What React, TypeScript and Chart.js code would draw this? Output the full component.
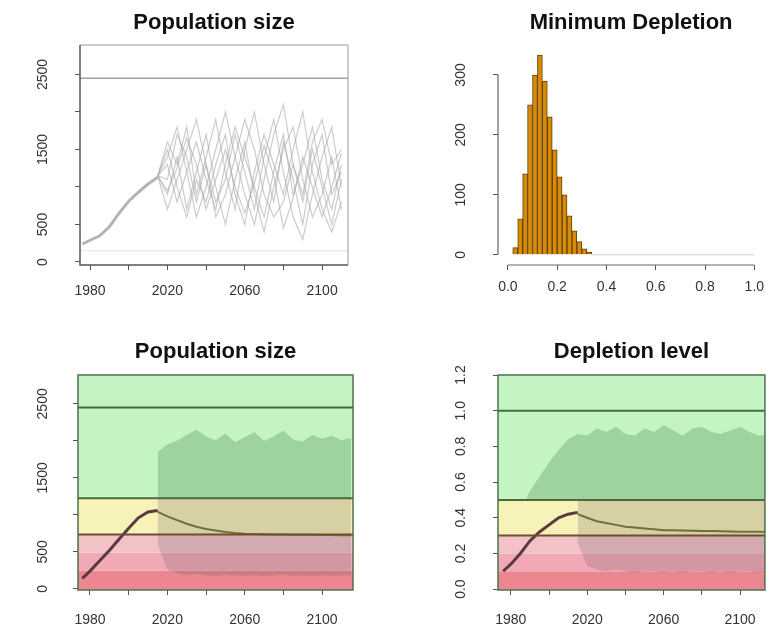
import React, { useEffect, useRef } from 'react';
import { Chart, registerables } from 'chart.js';
Chart.register(...registerables);

const FONT = '"Liberation Sans", Arial, Helvetica, sans-serif';

// ---------- shared axes ----------
const yearTicks = [1980, 2000, 2020, 2040, 2060, 2080, 2100];
const yearLabels = [1980, 2020, 2060, 2100];
const popTicks = [0, 500, 1000, 1500, 2000, 2500];
const popLabels = [0, 500, 1500, 2500];

// ---------- panel 1: Population size (trajectories) ----------
const histYears = [1976, 1980, 1985, 1990, 1995, 2000, 2005, 2010, 2015];
const p1Hist = [240, 290, 350, 470, 650, 810, 930, 1040, 1130];
const projYears = [2015, 2020, 2025, 2030, 2035, 2040, 2045, 2050, 2055, 2060, 2065, 2070, 2075, 2080, 2085, 2090, 2095, 2100, 2105, 2110];
const traj1 = [1150, 1600, 1300, 1800, 900, 1400, 1900, 1200, 700, 1500, 2000, 1300, 800, 1600, 1100, 500, 1300, 1700, 900, 1200];
const traj2 = [1150, 900, 1400, 700, 1200, 1700, 1000, 500, 1100, 1600, 900, 400, 1000, 1500, 1800, 1100, 600, 900, 1400, 700];
const traj3 = [1150, 1400, 1800, 1200, 600, 1000, 1500, 2000, 1400, 900, 500, 1100, 1700, 2100, 1300, 800, 1500, 1000, 500, 1100];
const traj4 = [1150, 700, 1100, 1500, 1900, 1300, 800, 1100, 1700, 1200, 700, 1400, 1900, 1200, 600, 300, 900, 1400, 1800, 1000];
const traj5 = [1150, 1500, 1000, 600, 1100, 800, 1300, 1700, 900, 500, 1200, 1700, 1300, 900, 1500, 2000, 1200, 700, 400, 800];
const traj6 = [1150, 1100, 1700, 1400, 800, 1300, 600, 900, 1400, 1900, 1500, 900, 600, 800, 1300, 900, 1600, 1900, 1300, 1500];
const traj7 = [1150, 1300, 800, 1200, 1600, 1100, 700, 1300, 1800, 1400, 1000, 600, 1200, 1700, 900, 1300, 1800, 1100, 700, 1300];
const traj8 = [1150, 950, 1250, 1650, 1300, 700, 1100, 1500, 1000, 650, 1050, 1550, 1150, 450, 850, 1400, 1000, 600, 1000, 1450];
const p1RefLines = [2450, 150];

// ---------- panel 2: Minimum Depletion histogram ----------
const binCenters = [0.03, 0.05, 0.07, 0.09, 0.11, 0.13, 0.15, 0.17, 0.19, 0.21, 0.23, 0.25, 0.27, 0.29, 0.31, 0.33];
const binCounts = [12, 60, 135, 250, 300, 333, 290, 230, 175, 130, 100, 65, 40, 22, 10, 4];
const emptyBinRange = [0.34, 1.0];
const depTicks = [0, 0.2, 0.4, 0.6, 0.8, 1.0];
const countTicks = [0, 100, 200, 300];

// ---------- panels 3 & 4: status bands ----------
const K = 2450;
const bandEdges = [0, 0.1, 0.2, 0.3, 0.5, 1.3];
const bandColors = ['#ea8790', '#f2a9b6', '#f2c2c6', '#f7f2b8', '#c4f4c4'];
const refLevels = [0.3, 0.5, 1.0];
const refColors = ['#6b5030', '#4b6b3b', '#3f6f3f'];
const envYears = [2015, 2020, 2025, 2030, 2035, 2040, 2045, 2050, 2055, 2060, 2065, 2070, 2075, 2080, 2085, 2090, 2095, 2100, 2105, 2110, 2115];

// panel 3 (numbers)
const p3Hist = [140, 240, 380, 520, 670, 820, 960, 1040, 1060];
const p3Upper = [1850, 1950, 2000, 2080, 2150, 2060, 2010, 2100, 1980, 2050, 2120, 2000, 2060, 2140, 2020, 1990, 2080, 2030, 2070, 2010, 2040];
const p3Lower = [600, 260, 210, 190, 200, 180, 170, 190, 180, 175, 185, 170, 180, 190, 175, 180, 170, 185, 175, 180, 180];
const p3Median = [1040, 980, 930, 880, 840, 810, 790, 770, 755, 745, 740, 738, 735, 735, 732, 730, 730, 728, 728, 726, 725];

// panel 4 (depletion)
const depLevelTicks = [0, 0.2, 0.4, 0.6, 0.8, 1.0, 1.2];
const p4Hist = [0.10, 0.14, 0.20, 0.27, 0.32, 0.36, 0.40, 0.42, 0.43];
const p4UpperYears = [1988, 1990, 1995, 2000, 2005, 2010, 2015, 2020, 2025, 2030, 2035, 2040, 2045, 2050, 2055, 2060, 2065, 2070, 2075, 2080, 2085, 2090, 2095, 2100, 2105, 2110, 2115];
const p4UpperVals = [0.50, 0.55, 0.63, 0.71, 0.78, 0.84, 0.87, 0.86, 0.90, 0.88, 0.91, 0.87, 0.86, 0.90, 0.88, 0.92, 0.89, 0.86, 0.90, 0.91, 0.88, 0.87, 0.89, 0.91, 0.88, 0.86, 0.87];
const p4Lower = [0.26, 0.13, 0.11, 0.10, 0.11, 0.10, 0.09, 0.10, 0.10, 0.09, 0.10, 0.09, 0.10, 0.10, 0.09, 0.10, 0.09, 0.10, 0.10, 0.09, 0.10];
const p4Median = [0.42, 0.40, 0.38, 0.37, 0.36, 0.35, 0.345, 0.34, 0.335, 0.33, 0.33, 0.328, 0.327, 0.326, 0.325, 0.324, 0.323, 0.322, 0.322, 0.321, 0.32];

// ---------- helpers ----------
const xy = (xs: number[], ys: number[]) => xs.map((x, i) => ({ x, y: ys[i] }));
const tickFont = { family: FONT, size: 14 };

function xAxis(min: number, max: number, ticksArr: number[], labelsArr: number[], fmt: (v: number) => string, pad: number) {
  return {
    type: 'linear', min, max, offset: false,
    afterBuildTicks: (s: any) => { s.ticks = ticksArr.map((v) => ({ value: v })); },
    afterFit: (s: any) => { s.height = 40; },
    ticks: { autoSkip: false, minRotation: 0, maxRotation: 0, padding: pad, font: tickFont, color: '#333',
      callback: (v: number) => (labelsArr.includes(v) ? fmt(v) : '') },
    grid: { drawOnChartArea: false, drawTicks: true, tickLength: 5, tickColor: '#555', offset: false },
    border: { display: false },
  };
}

function yAxis(min: number, max: number, ticksArr: number[], labelsArr: number[], fmt: (v: number) => string, width: number, pad: number) {
  return {
    type: 'linear', min, max,
    afterBuildTicks: (s: any) => { s.ticks = ticksArr.map((v) => ({ value: v })); },
    afterFit: (s: any) => { s.width = width; },
    ticks: { autoSkip: false, minRotation: 90, maxRotation: 90, crossAlign: 'center', padding: pad, font: tickFont, color: '#333',
      callback: (v: number) => (labelsArr.includes(v) ? fmt(v) : '') },
    grid: { drawOnChartArea: false, drawTicks: true, tickLength: 5, tickColor: '#555' },
    border: { display: false },
  };
}

function title(text: string, top: number, bottom: number) {
  return { display: true, text, fullSize: false, color: '#111', font: { family: FONT, size: 22, weight: 'bold' }, padding: { top, bottom } };
}

function basePlugins(t: any) {
  return { legend: { display: false }, tooltip: { enabled: false }, title: t };
}

const boxPlugin = (strong: string, light: string) => ({
  id: 'box',
  afterDatasetsDraw(chart: any) {
    const { ctx, chartArea: a } = chart;
    ctx.save();
    ctx.lineWidth = 1;
    ctx.strokeStyle = light;
    ctx.beginPath();
    ctx.moveTo(a.left, a.top); ctx.lineTo(a.right, a.top); ctx.lineTo(a.right, a.bottom);
    ctx.stroke();
    ctx.lineWidth = 1.5;
    ctx.strokeStyle = strong;
    ctx.beginPath();
    ctx.moveTo(a.left, a.top); ctx.lineTo(a.left, a.bottom); ctx.lineTo(a.right, a.bottom);
    ctx.stroke();
    ctx.restore();
  },
});

const bandsPlugin = (factor: number) => ({
  id: 'bands',
  beforeDraw(chart: any) {
    const { ctx, chartArea: a, scales: { y } } = chart;
    ctx.save();
    ctx.beginPath(); ctx.rect(a.left, a.top, a.width, a.height); ctx.clip();
    for (let i = 0; i < bandColors.length; i++) {
      const y0 = i === 0 ? a.bottom : y.getPixelForValue(bandEdges[i] * factor);
      const y1 = i === bandColors.length - 1 ? a.top : y.getPixelForValue(bandEdges[i + 1] * factor);
      ctx.fillStyle = bandColors[i];
      ctx.fillRect(a.left, y1, a.width, y0 - y1);
    }
    ctx.restore();
  },
  afterDatasetsDraw(chart: any) {
    const { ctx, chartArea: a, scales: { y } } = chart;
    ctx.save();
    refLevels.forEach((lv, i) => {
      const py = y.getPixelForValue(lv * factor);
      ctx.strokeStyle = refColors[i];
      ctx.lineWidth = 2;
      ctx.beginPath(); ctx.moveTo(a.left, py); ctx.lineTo(a.right, py); ctx.stroke();
    });
    ctx.strokeStyle = '#4f6f4f';
    ctx.lineWidth = 1.5;
    ctx.strokeRect(a.left, a.top, a.width, a.height);
    ctx.restore();
  },
});

const refLinePlugin = {
  id: 'refLines',
  beforeDatasetsDraw(chart: any) {
    const { ctx, chartArea: a, scales: { y } } = chart;
    ctx.save();
    p1RefLines.forEach((v, i) => {
      const py = y.getPixelForValue(v);
      ctx.strokeStyle = i === 0 ? '#a0a0a0' : '#e2e2e2';
      ctx.lineWidth = i === 0 ? 1.5 : 1;
      ctx.beginPath(); ctx.moveTo(a.left, py); ctx.lineTo(a.right, py); ctx.stroke();
    });
    ctx.restore();
  },
};

const rAxesPlugin = {
  id: 'rAxes',
  afterDatasetsDraw(chart: any) {
    const { ctx, chartArea: a, scales: { x, y } } = chart;
    ctx.save();
    ctx.strokeStyle = '#666';
    ctx.lineWidth = 1.2;
    ctx.beginPath();
    ctx.moveTo(a.left, y.getPixelForValue(countTicks[0]));
    ctx.lineTo(a.left, y.getPixelForValue(countTicks[countTicks.length - 1]));
    ctx.moveTo(x.getPixelForValue(depTicks[0]), a.bottom);
    ctx.lineTo(x.getPixelForValue(depTicks[depTicks.length - 1]), a.bottom);
    ctx.stroke();
    ctx.restore();
  },
};

const lineDs = (data: any[], color: string, width: number, extra: any = {}) => ({
  type: 'line', data, borderColor: color, borderWidth: width, pointRadius: 0, fill: false, tension: 0, ...extra,
});

export default function App() {
  const r1 = useRef<HTMLCanvasElement>(null);
  const r2 = useRef<HTMLCanvasElement>(null);
  const r3 = useRef<HTMLCanvasElement>(null);
  const r4 = useRef<HTMLCanvasElement>(null);

  useEffect(() => {
    const common = { responsive: false, animation: false, devicePixelRatio: 1, events: [] };
    const charts: Chart[] = [];
    const yr = (v: number) => String(v);
    const lowerFill = 'rgba(100,85,95,0.22)';
    const upperFill = 'rgba(40,110,40,0.25)';

    // Panel 1
    const trajs = [traj1, traj2, traj3, traj4, traj5, traj6, traj7, traj8];
    charts.push(new Chart(r1.current as HTMLCanvasElement, {
      type: 'line',
      data: {
        datasets: [
          lineDs(xy(histYears, p1Hist), '#b4b4b4', 3),
          ...trajs.map((t) => lineDs(xy(projYears, t), 'rgba(170,170,170,0.6)', 1.2)),
        ],
      } as any,
      options: {
        ...common,
        layout: { padding: { left: 0, right: 38, top: 0, bottom: 11 } },
        plugins: basePlugins(title('Population size', 10, 8.6)),
        scales: {
          x: xAxis(1974.8, 2113.4, yearTicks, yearLabels, yr, 12.6),
          y: yAxis(-40, 2893, popTicks, popLabels, yr, 80, 16),
        },
      } as any,
      plugins: [refLinePlugin, boxPlugin('#555', '#999')],
    }));

    // Panel 2
    charts.push(new Chart(r2.current as HTMLCanvasElement, {
      type: 'bar',
      data: {
        datasets: [
          { type: 'bar', data: xy(binCenters, binCounts), backgroundColor: '#d9890c', borderColor: '#5c4300', borderWidth: 1,
            barPercentage: 1, categoryPercentage: 1, order: 1 },
          lineDs(emptyBinRange.map((x) => ({ x, y: 0 })), '#cfcfcf', 1, { order: 2 }),
        ],
      } as any,
      options: {
        ...common,
        layout: { padding: { left: 0, right: 4, top: 0, bottom: 11 } },
        plugins: basePlugins(title('Minimum Depletion', 10, 8.6)),
        scales: {
          x: xAxis(-0.04, 1.04, depTicks, depTicks, (v) => v.toFixed(1), 8.6),
          y: yAxis(-17, 350, countTicks, countTicks, yr, 112, 20),
        },
      } as any,
      plugins: [rAxesPlugin],
    }));

    // Panel 3
    const half3 = 0.5 * K;
    charts.push(new Chart(r3.current as HTMLCanvasElement, {
      type: 'line',
      data: {
        datasets: [
          lineDs(xy(histYears, p3Hist), '#5a3a40', 3, { order: 1 }),
          lineDs(xy(envYears, p3Median), '#70703a', 2, { order: 2 }),
          lineDs(xy(envYears, p3Upper), 'rgba(0,0,0,0)', 0, { fill: { value: half3 }, backgroundColor: upperFill, order: 3 }),
          lineDs(xy(envYears, p3Lower), 'rgba(0,0,0,0)', 0, { fill: { value: half3 }, backgroundColor: lowerFill, order: 4 }),
        ],
      } as any,
      options: {
        ...common,
        layout: { padding: { left: 0, right: 33, top: 0, bottom: 3 } },
        plugins: basePlugins(title('Population size', 22.8, 9.8)),
        scales: {
          x: xAxis(1973.8, 2116, yearTicks, yearLabels, yr, 16.6),
          y: yAxis(-15, 2890, popTicks, popLabels, yr, 78, 14),
        },
      } as any,
      plugins: [bandsPlugin(K)],
    }));

    // Panel 4
    charts.push(new Chart(r4.current as HTMLCanvasElement, {
      type: 'line',
      data: {
        datasets: [
          lineDs(xy(histYears, p4Hist), '#5a3a40', 3, { order: 1 }),
          lineDs(xy(envYears, p4Median), '#70703a', 2, { order: 2 }),
          lineDs(xy(p4UpperYears, p4UpperVals), 'rgba(0,0,0,0)', 0, { fill: { value: 0.5 }, backgroundColor: upperFill, order: 3 }),
          lineDs(xy(envYears, p4Lower), 'rgba(0,0,0,0)', 0, { fill: { value: 0.5 }, backgroundColor: lowerFill, order: 4 }),
        ],
      } as any,
      options: {
        ...common,
        layout: { padding: { left: 0, right: 5, top: 0, bottom: 3 } },
        plugins: basePlugins(title('Depletion level', 22.8, 9.8)),
        scales: {
          x: xAxis(1973.3, 2113, yearTicks, yearLabels, yr, 16.6),
          y: yAxis(-0.005, 1.2, depLevelTicks, depLevelTicks, (v) => v.toFixed(1), 112, 22),
        },
      } as any,
      plugins: [bandsPlugin(1)],
    }));

    return () => charts.forEach((c) => c.destroy());
  }, []);

  const abs = (left: number, top: number) => ({ position: 'absolute' as const, left, top });
  return (
    <div style={{ position: 'fixed', left: 0, top: 0, width: 773, height: 633, background: '#fff' }}>
      <canvas ref={r1} width={386} height={316} style={abs(0, 0)} />
      <canvas ref={r2} width={387} height={316} style={abs(386, 0)} />
      <canvas ref={r3} width={386} height={317} style={abs(0, 316)} />
      <canvas ref={r4} width={387} height={317} style={abs(386, 316)} />
    </div>
  );
}
